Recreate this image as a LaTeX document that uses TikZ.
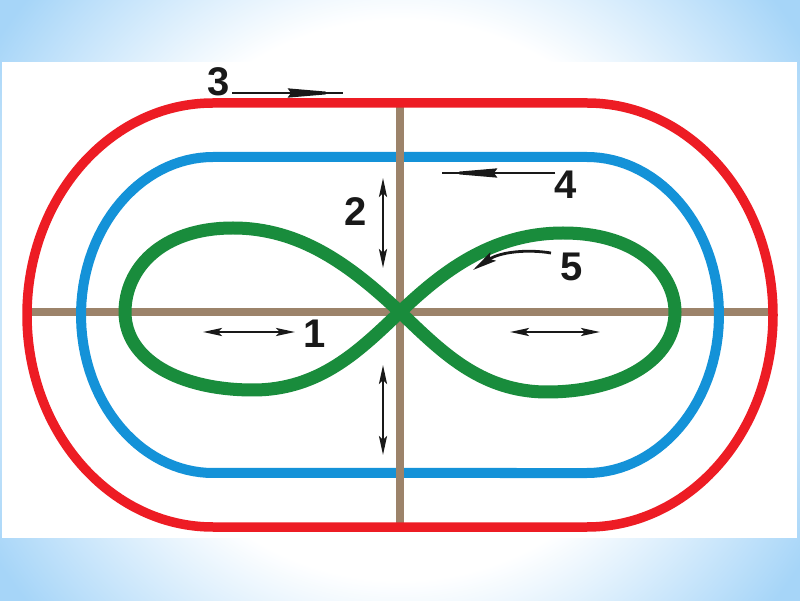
\documentclass[tikz,border=0pt]{standalone}
\usepackage{fontspec}
\setmainfont{Liberation Sans}
\usetikzlibrary{arrows.meta}
\definecolor{bgblue}{RGB}{166,213,248}
\definecolor{trackred}{RGB}{237,28,36}
\definecolor{trackblue}{RGB}{20,146,216}
\definecolor{trackgreen}{RGB}{25,140,60}
\definecolor{axisbrown}{RGB}{156,131,106}
\definecolor{inkblack}{RGB}{25,25,25}
\pgfdeclareradialshading{bgshade}{\pgfpoint{0bp}{0bp}}{color(0bp)=(white); color(14bp)=(white); color(24bp)=(bgblue); color(50bp)=(bgblue)}
\tikzset{
  redtrack/.style={draw=trackred,line width=9.5pt},
  bluetrack/.style={draw=trackblue,line width=10pt},
  greentrack/.style={draw=trackgreen,line width=13pt,line join=round},
  axisline/.style={draw=axisbrown,line width=8.5pt},
  dblarrow/.style={draw=inkblack,line width=2.7pt,{Stealth[length=19pt,width=8pt,inset=4pt]}-{Stealth[length=19pt,width=8pt,inset=4pt]}},
  longarrow/.style={draw=inkblack,line width=2.8pt,-{Stealth[length=55pt,width=9pt,inset=3pt]}},
  shaft/.style={draw=inkblack,line width=2pt},
  curvearrow/.style={draw=inkblack,line width=2.8pt,-{Stealth[length=24pt,width=10pt,inset=4pt]}},
  lbl/.style={font=\fontsize{40}{40}\selectfont\bfseries,inner sep=0pt,text=inkblack}
}
\begin{document}
\begin{tikzpicture}[x=1pt,y=1pt]
\useasboundingbox (0,0) rectangle (800,600);
% background
\begin{scope}
\clip (0,0) rectangle (800,600);
\shade[shading=bgshade] (-100,-200) rectangle (900,800);
\end{scope}
\fill[white] (2,62) rectangle (797,538);
% horizontal axis
\draw[axisline] (30,288) -- (770,288);
% blue track (parallel to the red one)
\draw[bluetrack]
  plot[domain=90:270,samples=60]
   ({213+186*cos(\x)-54*2.12*cos(\x)/sqrt((2.12*cos(\x))^2+(1.86*sin(\x))^2)},
    {285+212*sin(\x)-54*1.86*sin(\x)/sqrt((2.12*cos(\x))^2+(1.86*sin(\x))^2)})
  -- plot[domain=-90:90,samples=60]
   ({587+186*cos(\x)-54*2.12*cos(\x)/sqrt((2.12*cos(\x))^2+(1.86*sin(\x))^2)},
    {285+212*sin(\x)-54*1.86*sin(\x)/sqrt((2.12*cos(\x))^2+(1.86*sin(\x))^2)})
  -- cycle;
% vertical axis
\draw[axisline] (400,497) -- (400,73);
% red track
\draw[redtrack] (213,497) -- (587,497)
  arc[start angle=90,end angle=-90,x radius=186pt,y radius=212pt]
  -- (213,73)
  arc[start angle=270,end angle=90,x radius=186pt,y radius=212pt]
  -- cycle;
% green figure eight
\draw[greentrack] (400,288)
  .. controls (350,335) and (300,372) .. (233,372)
  .. controls (160,372) and (125,330) .. (125,288)
  .. controls (125,240) and (180,210) .. (253,210)
  .. controls (320,210) and (360,250) .. (400,288)
  .. controls (440,326) and (490,367) .. (563,367)
  .. controls (640,367) and (675,325) .. (675,288)
  .. controls (675,240) and (620,208) .. (547,208)
  .. controls (480,208) and (440,250) .. (400,288) -- cycle;
% labels
\node[lbl] (lab1) at (315,266) {1};
\node[lbl] (lab2) at (356,388) {2};
\node[lbl] (lab3) at (219,518) {3};
\node[lbl] (lab4) at (566,415) {4};
\node[lbl] (lab5) at (572,333) {5};
% arrow end points
\coordinate (a1l) at (203,268);
\coordinate (a1r) at (295,268);
\coordinate (a2t) at (383,422);
\coordinate (a2b) at (383,332);
\coordinate (a3s) at (232,507);
\coordinate (a3e) at (343,507);
\coordinate (a4s) at (555,427);
\coordinate (a4e) at (442,427);
\coordinate (a5s) at (551,347);
\coordinate (a5e) at (473,330);
\coordinate (a6t) at (383,235);
\coordinate (a6b) at (383,145);
\coordinate (a7l) at (510,268);
\coordinate (a7r) at (600,268);
% arrows
\draw[dblarrow] (a1l) -- (a1r);
\draw[dblarrow] (a2t) -- (a2b);
\draw[shaft] (a3s) -- (a3e);
\draw[longarrow] (a3s) -- (a3e);
\draw[shaft] (a4s) -- (a4e);
\draw[longarrow] (a4s) -- (a4e);
\draw[curvearrow] (a5s) .. controls (527,351) and (500,348) .. (a5e);
\draw[dblarrow] (a6t) -- (a6b);
\draw[dblarrow] (a7l) -- (a7r);
\end{tikzpicture}
\end{document}
